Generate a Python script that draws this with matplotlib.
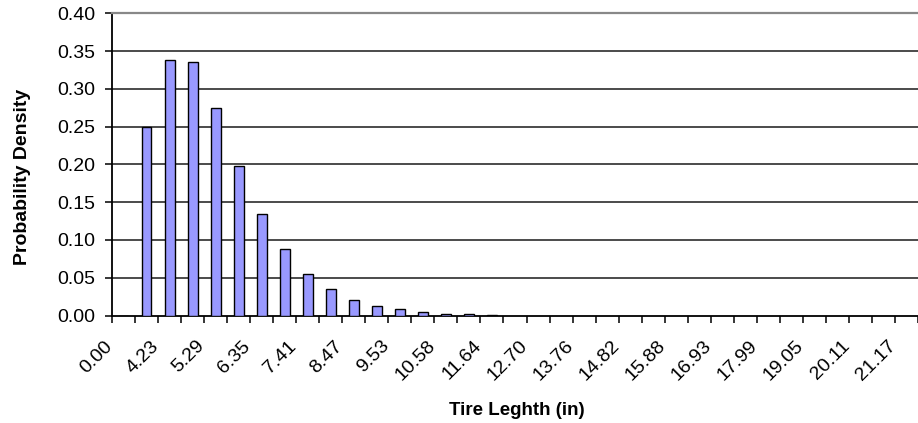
import numpy as np
import matplotlib
matplotlib.use("Agg")
import matplotlib.pyplot as plt
import matplotlib.transforms as mtransforms

# bin labels shown on the axis (every other bin is labelled)
bin_labels = ["0.00", "4.23", "5.29", "6.35", "7.41", "8.47", "9.53", "10.58",
              "11.64", "12.70", "13.76", "14.82", "15.88", "16.93", "17.99",
              "19.05", "20.11", "21.17"]
# probability density per bin, starting at the first bin (0.00)
density = [0.0, 0.249, 0.338, 0.335, 0.274, 0.198, 0.134, 0.088, 0.055,
           0.035, 0.020, 0.012, 0.008, 0.0046, 0.002, 0.0015, 0.001]

plt.rcParams['font.family'] = ['Liberation Sans', 'DejaVu Sans']

W, H = 918, 423
TICK_FS = 14
fig = plt.figure(figsize=(W / 100, H / 100), dpi=100)
ax = fig.add_axes([112 / W, 1 - 315.5 / H, (W - 112) / W, (315.5 - 13.3) / H])

n_bins = 2 * (len(bin_labels) - 1) + 1
slot_px = 23.2
x = np.arange(len(density))
ax.bar(x, density, width=0.43, color='#9999FF', edgecolor='black', linewidth=1.0, zorder=3)

ax.set_xlim(-0.5, (W - 112) / slot_px - 0.5)
ax.set_ylim(0, 0.40)

# ticks sit on the bin boundaries, labels on every second one
edges = np.arange(n_bins + 1) - 0.5
ax.set_xticks(edges)
ax.set_xticklabels([])
ax.tick_params(axis='x', direction='out', length=5, width=1.1)

px = fig.dpi_scale_trans
base = mtransforms.blended_transform_factory(ax.transData, ax.transAxes)
label_tr = base + mtransforms.ScaledTranslation(-8 / 100, -22 / 100, px)
for i, lab in enumerate(bin_labels):
    ax.text(edges[2 * i], 0, lab, transform=label_tr, rotation=45,
            ha='right', va='top', rotation_mode='anchor', fontsize=TICK_FS,
            clip_on=False)

yt = np.arange(0, 0.41, 0.05)
ax.set_yticks(yt)
ax.set_yticklabels([f"{v:.2f}" for v in yt], fontsize=TICK_FS)
ax.tick_params(axis='y', direction='out', length=5, width=1.1, pad=7)

for v in yt[1:-1]:
    ax.axhline(v, color='#1a1a1a', lw=1.1, zorder=1)

ax.spines['right'].set_visible(False)
ax.spines['top'].set_color('#888888')
ax.spines['top'].set_linewidth(1.6)
ax.spines['left'].set_linewidth(1.3)
ax.spines['bottom'].set_linewidth(1.3)

fig.text(22.5 / W, 1 - 176.5 / H, 'Probability Density', rotation=90,
         ha='center', va='center', fontsize=14, fontweight='bold')
fig.text(517 / W, 1 - 415 / H, 'Tire Leghth (in)', ha='center', va='baseline',
         fontsize=13.5, fontweight='bold')

fig.savefig('out.png', dpi=100)
